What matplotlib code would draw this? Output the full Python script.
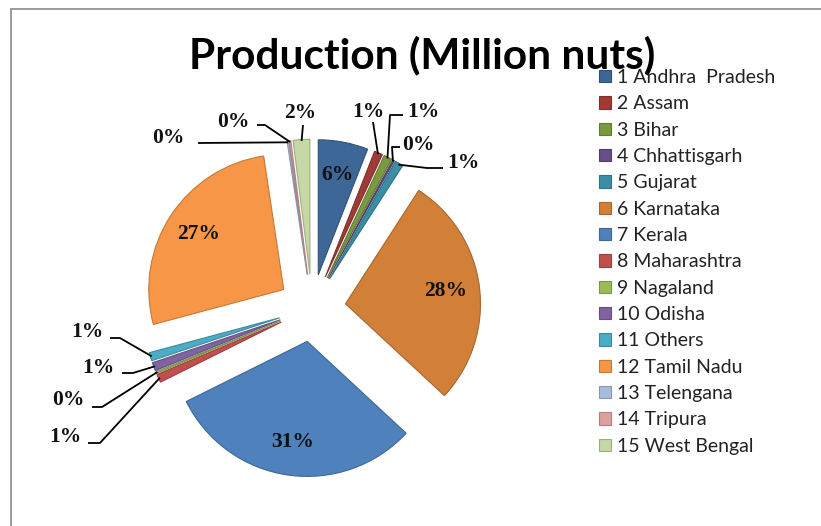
import matplotlib
matplotlib.use('Agg')
import matplotlib.pyplot as plt
from matplotlib.lines import Line2D
import numpy as np
from matplotlib.colors import to_rgb

# ---------------- data ----------------
states = ['1 Andhra  Pradesh', '2 Assam', '3 Bihar', '4 Chhattisgarh', '5 Gujarat',
          '6 Karnataka', '7 Kerala', '8 Maharashtra', '9 Nagaland', '10 Odisha',
          '11 Others', '12 Tamil Nadu', '13 Telengana', '14 Tripura', '15 West Bengal']
shares = [6, 1, 1, 0.2, 1, 28, 31, 1, 0.2, 1, 1, 27, 0.2, 0.2, 2]
pct_labels = ['6%', '1%', '1%', '0%', '1%', '28%', '31%', '1%', '0%', '1%',
              '1%', '27%', '0%', '0%', '2%']
colors = ['#3C6796', '#A03A37', '#7A9A3F', '#674F87', '#3A8FA6', '#D27F37',
          '#4F81BD', '#C0504D', '#9BBB59', '#8064A2', '#4BACC6', '#F79646',
          '#A7BCDC', '#DDA09F', '#C5D8A6']
title = 'Production (Million nuts)'

# ---------------- layout ----------------
W, H = 821, 526
CX, CY, R = 312, 308, 135
fig = plt.figure(figsize=(W / 100, H / 100), dpi=100)
ax = fig.add_axes([0, 0, 1, 1])


def P(px, py):
    return ((px - CX) / R, (CY - py) / R)


def darker(c, f=0.8):
    r, g, b = to_rgb(c)
    return (r * f, g * f, b * f)


wedges, _ = ax.pie(shares, colors=colors, startangle=90, counterclock=False,
                   explode=[0.25] * len(shares), radius=1, center=(0, 0),
                   wedgeprops=dict(linewidth=0.8))
for w, c in zip(wedges, colors):
    w.set_edgecolor(darker(c))

ax.set_xlim(-CX / R, (W - CX) / R)
ax.set_ylim(-(H - CY) / R, CY / R)
ax.set_aspect('auto')
ax.axis('off')

lab_font = dict(family='Liberation Serif', weight='bold', size=15.5, color='#111111')

# inside labels for big slices
inside = {0, 5, 6, 11}
for i in inside:
    w = wedges[i]
    th = np.deg2rad((w.theta1 + w.theta2) / 2)
    cx, cy = w.center
    d = 0.75
    ax.text(cx + d * np.cos(th), cy + d * np.sin(th), pct_labels[i],
            ha='center', va='center', **lab_font)

# outside labels: text centre, leader start, optional elbow (pixel layout)
outside = {
    1: ((368, 112), (373, 122), None),
    2: ((423, 112), (403, 115), (390, 115)),
    3: ((418, 145), (400, 147), (392, 147)),
    4: ((463, 163), (443, 168), (427, 168)),
    7: ((65, 437), (88, 443), (100, 443)),
    8: ((68, 400), (92, 407), (102, 407)),
    9: ((98, 368), (122, 373), (133, 373)),
    10: ((87, 332), (110, 338), (120, 338)),
    12: ((168, 138), (198, 143), None),
    13: ((233, 122), (257, 125), (265, 125)),
    14: ((300, 113), (303, 125), None),
}
for i, (tpos, start, elbow) in outside.items():
    ax.text(*P(*tpos), pct_labels[i], ha='center', va='center', **lab_font)
    w = wedges[i]
    th = np.deg2rad((w.theta1 + w.theta2) / 2)
    cx, cy = w.center
    end = (cx + 0.99 * np.cos(th), cy + 0.99 * np.sin(th))
    pts = [P(*start)]
    if elbow is not None:
        pts.append(P(*elbow))
    pts.append(end)
    xs, ys = zip(*pts)
    ax.plot(xs, ys, color='black', lw=1.3, solid_capstyle='butt')

# title
fig.text(422 / W, 1 - 68 / H, title, ha='center', va='baseline',
         family='Lato', weight='bold', size=30.5, color='black')

# legend
fig.legend(wedges, states, loc='upper left', bbox_to_anchor=(599 / W, 1 - 69 / H),
           frameon=False, prop=dict(family='Lato', size=14), handlelength=0.6,
           handleheight=0.6, handletextpad=0.3, labelspacing=0.48,
           borderaxespad=0, borderpad=0, labelcolor='#222222')

# chart area border (top and left only visible)
fig.add_artist(Line2D([11 / W, 1], [1 - 9 / H, 1 - 9 / H], color='#9a9a9a', lw=1.4,
                      transform=fig.transFigure))
fig.add_artist(Line2D([11 / W, 11 / W], [1 - 9 / H, 0], color='#9a9a9a', lw=1.4,
                      transform=fig.transFigure))

fig.savefig('out.png', dpi=100)
